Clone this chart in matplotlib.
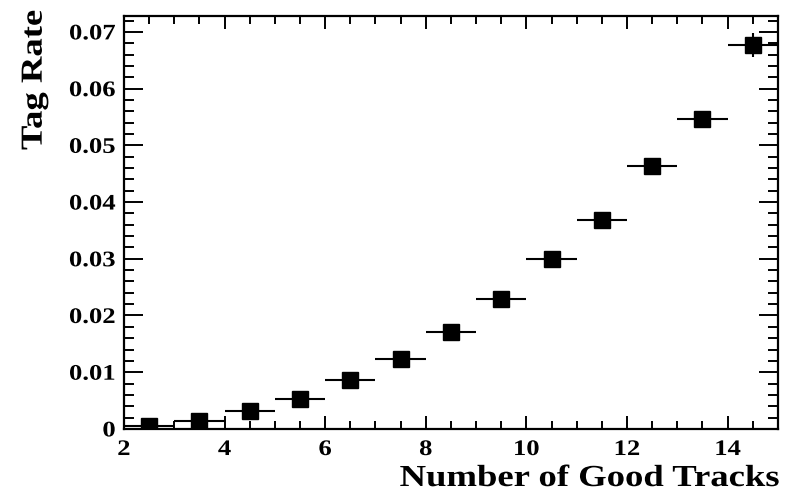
import matplotlib
matplotlib.use("Agg")
import matplotlib.pyplot as plt
from matplotlib.ticker import MultipleLocator, FuncFormatter
from matplotlib.patheffects import AbstractPathEffect
from matplotlib.transforms import Affine2D

# tag rate per number-of-good-tracks bin (bin width 1)
n_tracks = [2.5, 3.5, 4.5, 5.5, 6.5, 7.5, 8.5, 9.5, 10.5, 11.5, 12.5, 13.5, 14.5]
tag_rate = [0.0005, 0.0014, 0.0032, 0.0053, 0.0086, 0.0123, 0.0171,
            0.0229, 0.0300, 0.0369, 0.0464, 0.0547, 0.0677]
tag_err = [0.0001, 0.0002, 0.0003, 0.0004, 0.0005, 0.0006, 0.0007,
           0.0008, 0.0009, 0.0010, 0.0011, 0.0013, 0.0021]
bin_half = [0.5] * len(n_tracks)


class WideText(AbstractPathEffect):
    """Stretch glyphs along the baseline, keeping one end of the string fixed."""

    def __init__(self, sx=1.2, anchor="center"):
        super().__init__()
        self.sx = sx
        self.anchor = anchor

    def draw_path(self, renderer, gc, tpath, affine, rgbFace=None):
        ext = tpath.get_extents()
        x0 = {"left": ext.x0, "right": ext.x1}.get(self.anchor, 0.5 * (ext.x0 + ext.x1))
        stretch = Affine2D().translate(-x0, 0).scale(self.sx, 1).translate(x0, 0)
        renderer.draw_path(gc, tpath, stretch + affine, rgbFace)


plt.rcParams["font.family"] = ["Liberation Serif", "DejaVu Serif"]
plt.rcParams["font.weight"] = "bold"

fig = plt.figure(figsize=(7.89, 4.93), dpi=100)
ax = fig.add_axes([0.157, 0.130, 0.829, 0.8375])

ax.errorbar(n_tracks, tag_rate, xerr=bin_half, yerr=tag_err, fmt="s",
            color="black", markersize=11.5, elinewidth=1.5, capsize=0)

ax.set_xlim(2, 15)
ax.set_ylim(0, 0.0728)

ax.xaxis.set_major_locator(MultipleLocator(2))
ax.xaxis.set_minor_locator(MultipleLocator(0.5))
ax.yaxis.set_major_locator(MultipleLocator(0.01))
ax.yaxis.set_minor_locator(MultipleLocator(0.002))
ax.yaxis.set_major_formatter(
    FuncFormatter(lambda v, p: "0" if abs(v) < 1e-9 else "%.2f" % v))

for s in ax.spines.values():
    s.set_linewidth(1.6)

ax.tick_params(axis="x", which="both", direction="in", top=True,
               labelsize=16, pad=8, width=1.4)
ax.tick_params(axis="x", which="major", length=9.5)
ax.tick_params(axis="x", which="minor", length=5.5)
ax.tick_params(axis="y", which="both", direction="in", right=True,
               labelsize=16, pad=6, width=1.4)
ax.tick_params(axis="y", which="major", length=14)
ax.tick_params(axis="y", which="minor", length=7.5)

ax.set_xlabel("Number of Good Tracks", fontsize=22, fontweight="bold")
ax.xaxis.set_label_coords(1.002, -0.085)
ax.xaxis.label.set_horizontalalignment("right")
ax.xaxis.label.set_path_effects([WideText(1.2, "right")])
ax.set_ylabel("Tag Rate", fontsize=22, fontweight="bold")
ax.yaxis.set_label_coords(-0.115, 1.015)
ax.yaxis.label.set_horizontalalignment("right")
ax.yaxis.label.set_path_effects([WideText(1.2, "right")])

fig.canvas.draw()
for lab in ax.get_xticklabels():
    lab.set_path_effects([WideText(1.2, "center")])
for lab in ax.get_yticklabels():
    lab.set_path_effects([WideText(1.2, "right")])

fig.savefig("out.png", dpi=100)
